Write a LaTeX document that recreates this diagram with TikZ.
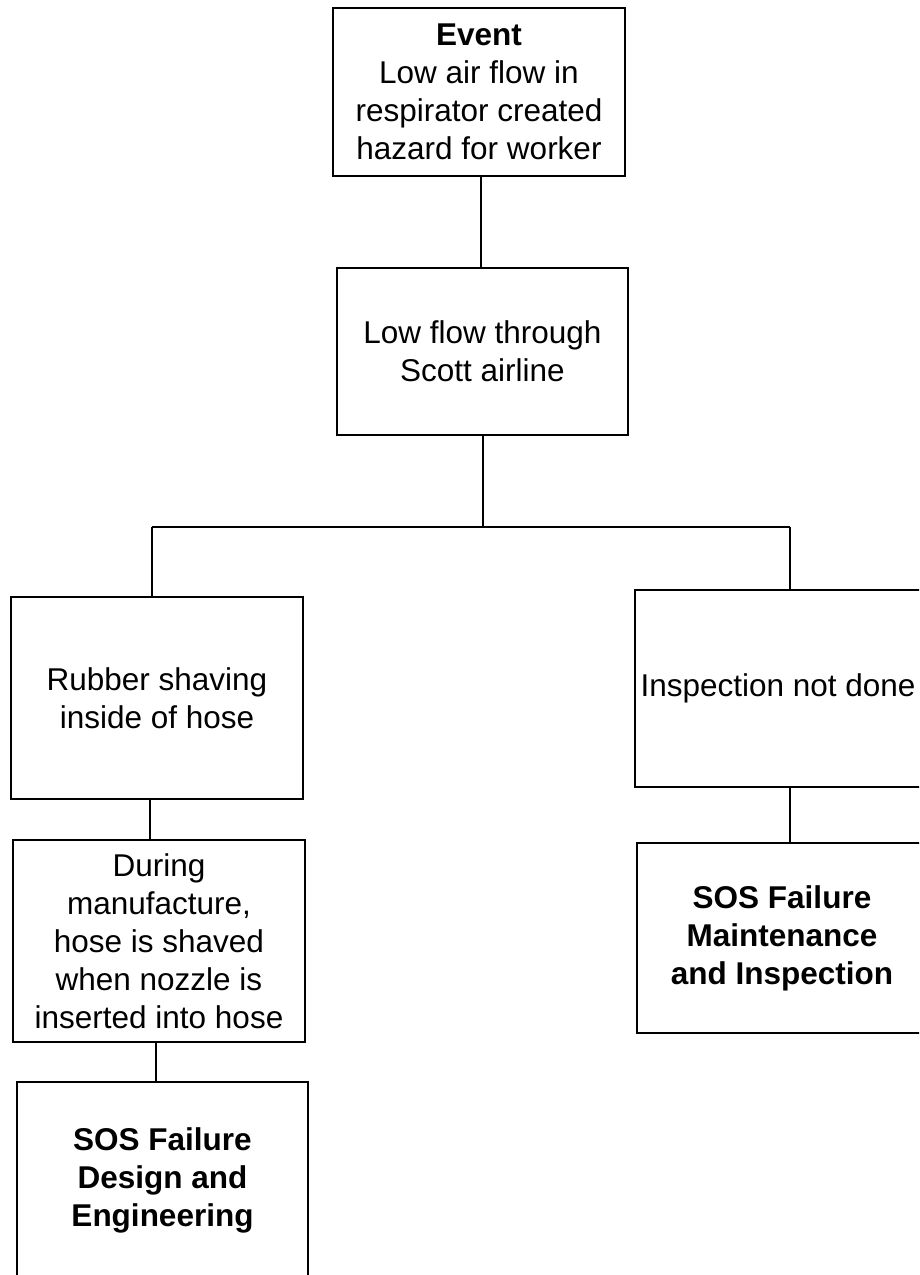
\documentclass[tikz,border=0pt]{standalone}
\usepackage{fontspec}
\setmainfont{Liberation Sans}
\begin{document}
\begin{tikzpicture}[x=1pt,y=-1pt,
  box/.style={draw=black,line width=2pt,rectangle,inner sep=0pt,align=center,
    font=\fontsize{31.5}{38}\selectfont},
  conn/.style={draw=black,line width=2pt}]
\useasboundingbox (0,0) rectangle (919,1275);
\fill[white] (0,0) rectangle (919,1275);
\begin{scope}
\clip (0,0) rectangle (919,1275);
\node[box,minimum width=292pt,minimum height=168pt] (b1) at (479,92)
  {\textbf{Event}\\Low air flow in\\respirator created\\hazard for worker};
\node[box,minimum width=291pt,minimum height=167pt] (b2) at (482.5,351.5)
  {Low flow through\\Scott airline};
\node[box,minimum width=292pt,minimum height=202pt] (b3) at (157,698)
  {Rubber shaving\\inside of hose};
\node[box,minimum width=292pt,minimum height=202pt] (b4) at (159,941)
  {During\\manufacture,\\hose is shaved\\when nozzle is\\inserted into hose};
\node[box,minimum width=291pt,minimum height=196pt] (b5) at (162.5,1180)
  {\textbf{SOS Failure}\\\textbf{Design and}\\\textbf{Engineering}};
\node[box,minimum width=286pt,minimum height=197pt] (b6) at (778,688.5)
  {Inspection not done};
\node[box,minimum width=290pt,minimum height=190pt] (b7) at (782,938)
  {\textbf{SOS Failure}\\\textbf{Maintenance}\\\textbf{and Inspection}};
\coordinate (jl) at (152,527);
\coordinate (jr) at (790,527);
\draw[conn] ([xshift=2pt]b1.south) -- ([xshift=2pt]b1.south |- b2.north);
\draw[conn] (b2.south) -- (b2.south |- jl);
\draw[conn] (jl) -- (jr);
\draw[conn] (jl) -- (jl |- b3.north);
\draw[conn] (jr) -- (jr |- b6.north);
\draw[conn] ([xshift=-7pt]b3.south) -- ([xshift=-7pt]b3.south |- b4.north);
\draw[conn] ([xshift=-3pt]b4.south) -- ([xshift=-3pt]b4.south |- b5.north);
\draw[conn] (jr |- b6.south) -- (jr |- b7.north);
\end{scope}
\end{tikzpicture}
\end{document}
